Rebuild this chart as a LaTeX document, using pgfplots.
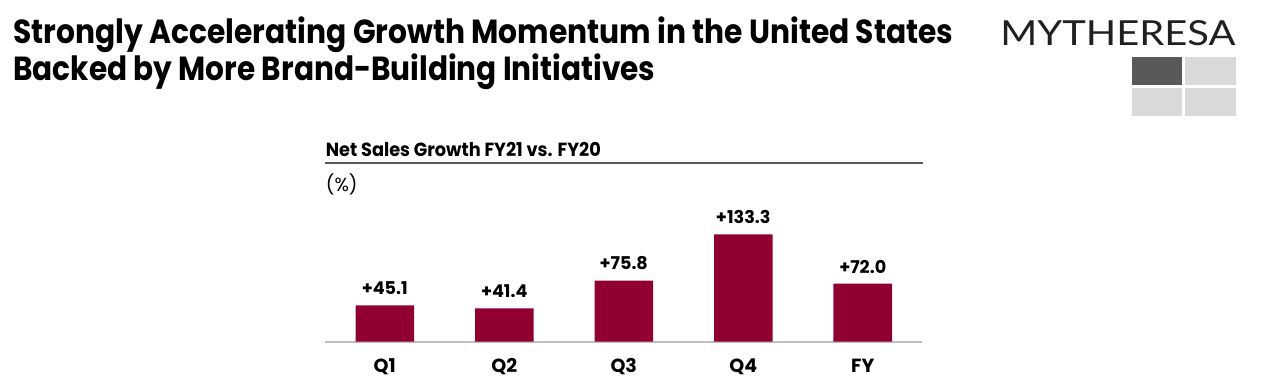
\documentclass[border=0pt]{standalone}
\usepackage{fontspec}
\setmainfont{Poppins}
\newfontfamily\logofont{Lato}
\usepackage{graphicx}
\usepackage{pgfplots}
\pgfplotsset{compat=1.18}
\definecolor{barred}{RGB}{144,0,48}
\definecolor{sqdark}{RGB}{89,89,89}
\definecolor{sqlight}{RGB}{217,217,217}
\definecolor{hdrline}{RGB}{89,89,89}
\definecolor{baseln}{RGB}{191,191,191}
\definecolor{logoc}{RGB}{35,31,32}
\begin{document}
\begin{tikzpicture}
\useasboundingbox (0,0) rectangle (634.5pt,193.5pt);
\begin{scope}[x=0.5pt,y=-0.5pt,yshift=193.5pt]
  % main title
  \node[anchor=base west, inner sep=0] at (13,43.3)
    {\resizebox{470pt}{\height}{\fontsize{16.7pt}{20pt}\selectfont\bfseries Strongly Accelerating Growth Momentum in the United States}};
  \node[anchor=base west, inner sep=0] at (13,80)
    {\resizebox{321pt}{\height}{\fontsize{16.7pt}{20pt}\selectfont\bfseries Backed by More Brand-Building Initiatives}};
  % logo
  \node[anchor=base west, inner sep=0, text=logoc] at (1000,45)
    {\resizebox{117.5pt}{12.5pt}{\logofont MYTHERESA}};
  \fill[sqdark] (1132,57) rectangle (1182,85);
  \fill[sqlight] (1185,57) rectangle (1236,85);
  \fill[sqlight] (1132,88) rectangle (1182,116);
  \fill[sqlight] (1185,88) rectangle (1236,116);
  % chart title
  \node[anchor=base west, inner sep=0] at (325.5,156)
    {\resizebox{137.5pt}{\height}{\fontsize{9.5pt}{11pt}\selectfont\bfseries Net Sales Growth FY21 vs. FY20}};
  \draw[hdrline, line width=0.85pt] (325,163.3) -- (922.7,163.3);
  \node[anchor=base west, inner sep=0] at (325.5,191.7)
    {\fontsize{9.5pt}{11pt}\selectfont (\%)};
\end{scope}
\begin{axis}[
  at={(162.5pt,22.65pt)}, anchor=south west,
  scale only axis, width=298.75pt, height=60.375pt,
  xmin=-0.5, xmax=4.5, ymin=0, ymax=150,
  axis line style={draw=none},
  ytick=\empty,
  xtick={0,1,2,3,4},
  xticklabels={Q1,Q2,Q3,Q4,FY},
  major tick length=0pt,
  xticklabel style={font=\fontsize{9.5pt}{11pt}\selectfont\bfseries, anchor=base, yshift=-15.5pt, inner sep=0pt},
  clip=false,
]
\draw[baseln, line width=1pt] (axis cs:-0.5,0) -- (axis cs:4.5,0);
\addplot[ybar, bar width=29.25pt, fill=barred, draw=none,
  nodes near coords, point meta=explicit symbolic,
  nodes near coords style={font=\fontsize{8.8pt}{10pt}\selectfont\bfseries, text=black, anchor=base, yshift=5.35pt, inner sep=0pt}]
  coordinates {(0,45.1) [+45.1] (1,41.4) [+41.4] (2,75.8) [+75.8] (3,133.3) [+133.3] (4,72.0) [+72.0]};
\end{axis}
\end{tikzpicture}
\end{document}
